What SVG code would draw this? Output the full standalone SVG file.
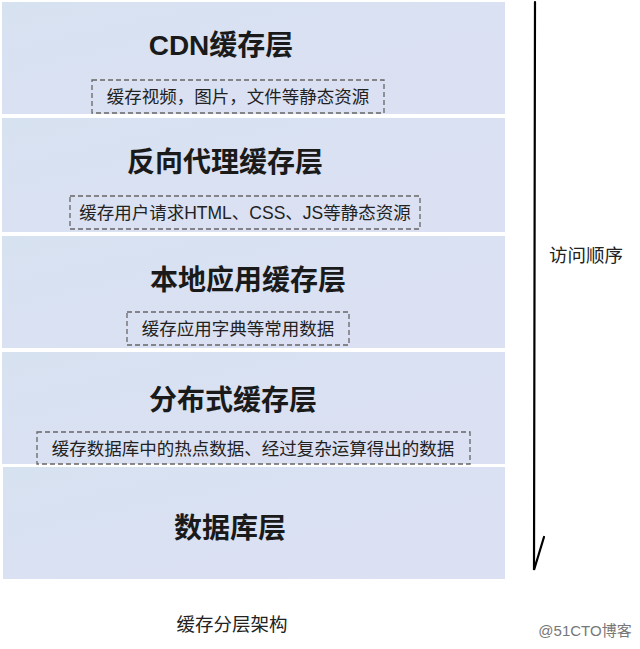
<svg xmlns="http://www.w3.org/2000/svg" width="640" height="649" viewBox="0 0 640 649">
<defs>
<linearGradient id="bg" x1="0" y1="0" x2="1" y2="1">
<stop offset="0" stop-color="#d7e2f1"/>
<stop offset="1" stop-color="#dce0f3"/>
</linearGradient>
</defs>
<style>
.band{fill:url(#bg);}
.title{font-family:"Liberation Sans","Noto Sans CJK SC",sans-serif;font-weight:bold;font-size:28px;fill:#1a1a1a;text-anchor:middle;}
.sub{font-family:"Liberation Sans","Noto Sans CJK SC",sans-serif;font-size:17.5px;fill:#222;text-anchor:middle;}
.dash{fill:none;stroke:#666;stroke-width:1.3;stroke-dasharray:5,3;}
.cap{font-family:"Liberation Sans","Noto Sans CJK SC",sans-serif;font-size:18.5px;fill:#222;text-anchor:middle;}
.line{fill:none;stroke:#000;stroke-width:2.2;stroke-linecap:round;}
</style>
<rect width="640" height="649" fill="#ffffff"/>
<g id="cdn">
<rect class="band" x="2" y="2" width="503" height="112"/>
<text class="title" x="221" y="55">CDN缓存层</text>
<rect class="dash" x="92" y="80" width="292" height="33"/>
<text class="sub" x="238" y="103">缓存视频，图片，文件等静态资源</text>
</g>
<g id="proxy">
<rect class="band" x="2" y="118" width="503" height="114"/>
<text class="title" x="225" y="172">反向代理缓存层</text>
<rect class="dash" x="70" y="196" width="350" height="33"/>
<text class="sub" x="245" y="219">缓存用户请求HTML、CSS、JS等静态资源</text>
</g>
<g id="local">
<rect class="band" x="2" y="236" width="503" height="112"/>
<text class="title" x="248" y="290">本地应用缓存层</text>
<rect class="dash" x="127" y="312" width="222" height="33"/>
<text class="sub" x="238" y="335">缓存应用字典等常用数据</text>
</g>
<g id="distributed">
<rect class="band" x="2" y="352" width="503" height="112"/>
<text class="title" x="233" y="410">分布式缓存层</text>
<rect class="dash" x="37" y="432" width="433" height="32"/>
<text class="sub" x="253" y="455">缓存数据库中的热点数据、经过复杂运算得出的数据</text>
</g>
<g id="database">
<rect class="band" x="3" y="467" width="502" height="112"/>
<text class="title" x="230" y="538">数据库层</text>
</g>
<g id="connectors">
<polyline class="line" points="535,2 534,570 544,537"/>
</g>
<text x="586" y="262" class="cap">访问顺序</text>
<text x="232" y="631" class="cap">缓存分层架构</text>
<text x="585" y="636" font-family="Liberation Sans,Noto Sans CJK SC,sans-serif" font-size="15" fill="#777" text-anchor="middle">@51CTO博客</text>
</svg>
